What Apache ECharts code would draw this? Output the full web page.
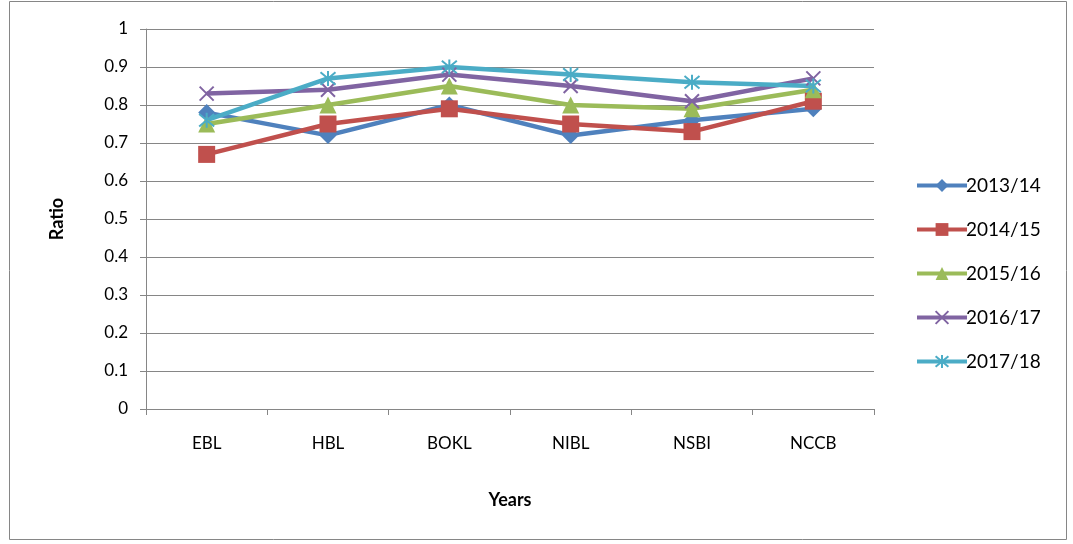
<!DOCTYPE html>
<html>
<head>
<meta charset="utf-8">
<script src="https://cdn.jsdelivr.net/npm/echarts@6/dist/echarts.min.js"></script>
<style>
  html, body { margin: 0; padding: 0; background: #fff; }
  #chart { width: 1073px; height: 544px; }
</style>
</head>
<body>
<div id="chart"></div>
<script>
const banks = ['EBL', 'HBL', 'BOKL', 'NIBL', 'NSBI', 'NCCB'];
const fy1314 = [0.78, 0.72, 0.80, 0.72, 0.76, 0.79];
const fy1415 = [0.67, 0.75, 0.79, 0.75, 0.73, 0.81];
const fy1516 = [0.75, 0.80, 0.85, 0.80, 0.79, 0.84];
const fy1617 = [0.83, 0.84, 0.88, 0.85, 0.81, 0.87];
const fy1718 = [0.76, 0.87, 0.90, 0.88, 0.86, 0.85];

const font = 'Lato, "Open Sans", sans-serif';
const crossPath = 'path://M0,0L10,10M10,0L0,10';
const starPath = 'path://M0,0L10,10M10,0L0,10M5,-1L5,11';

const mk = (name, data, color, symbol, size, hollow) => ({
  name,
  type: 'line',
  data,
  symbol,
  symbolSize: size,
  lineStyle: { color, width: 4.5 },
  itemStyle: hollow
    ? { color: 'rgba(0,0,0,0)', borderColor: color, borderWidth: 2 }
    : { color, borderColor: color, borderWidth: 0 },
  emphasis: { disabled: true },
  z: 2
});

const chart = echarts.init(document.getElementById('chart'));
chart.setOption({
  animation: false,
  textStyle: { fontFamily: font },
  graphic: [{
    type: 'rect',
    shape: { x: 9.5, y: 1.5, width: 1057, height: 538 },
    style: { fill: 'none', stroke: '#868686', lineWidth: 1 }
  }],
  grid: { left: 146, right: 199, top: 29, bottom: 135 },
  legend: {
    orient: 'vertical',
    left: 910,
    top: 171,
    itemWidth: 50,
    itemHeight: 16,
    itemGap: 25,
    lineStyle: { width: 4 },
    textStyle: { fontSize: 19, color: '#000', fontFamily: font, padding: [0, 0, 0, -6] },
    data: ['2013/14', '2014/15', '2015/16', '2016/17', '2017/18']
  },
  xAxis: {
    type: 'category',
    data: banks,
    boundaryGap: true,
    name: 'Years',
    nameLocation: 'middle',
    nameGap: 82,
    nameTextStyle: { fontSize: 18, fontWeight: 'bold', color: '#000', fontFamily: font },
    axisLine: { lineStyle: { color: '#868686', width: 1 } },
    axisTick: { show: true, length: 6, lineStyle: { color: '#868686' } },
    axisLabel: { fontSize: 17, color: '#000', margin: 26, fontFamily: font },
    splitLine: { show: false }
  },
  yAxis: {
    type: 'value',
    min: 0,
    max: 1,
    interval: 0.1,
    name: 'Ratio',
    nameLocation: 'middle',
    nameGap: 80,
    nameRotate: 90,
    nameTextStyle: { fontSize: 18, fontWeight: 'bold', color: '#000', fontFamily: font },
    axisLine: { show: true, lineStyle: { color: '#868686', width: 1 } },
    axisTick: { show: true, length: 6, lineStyle: { color: '#868686' } },
    axisLabel: {
      fontSize: 17, color: '#000', margin: 18, fontFamily: font,
      formatter: v => String(Math.round(v * 10) / 10)
    },
    splitLine: { show: true, lineStyle: { color: '#868686', width: 1 } }
  },
  series: [
    mk('2013/14', fy1314, '#4F81BD', 'diamond', 17, false),
    mk('2014/15', fy1415, '#C0504D', 'rect', 17, false),
    mk('2015/16', fy1516, '#9BBB59', 'triangle', 17, false),
    mk('2016/17', fy1617, '#8064A2', crossPath, 14, true),
    mk('2017/18', fy1718, '#4BACC6', starPath, 15, true)
  ]
});
</script>
</body>
</html>
